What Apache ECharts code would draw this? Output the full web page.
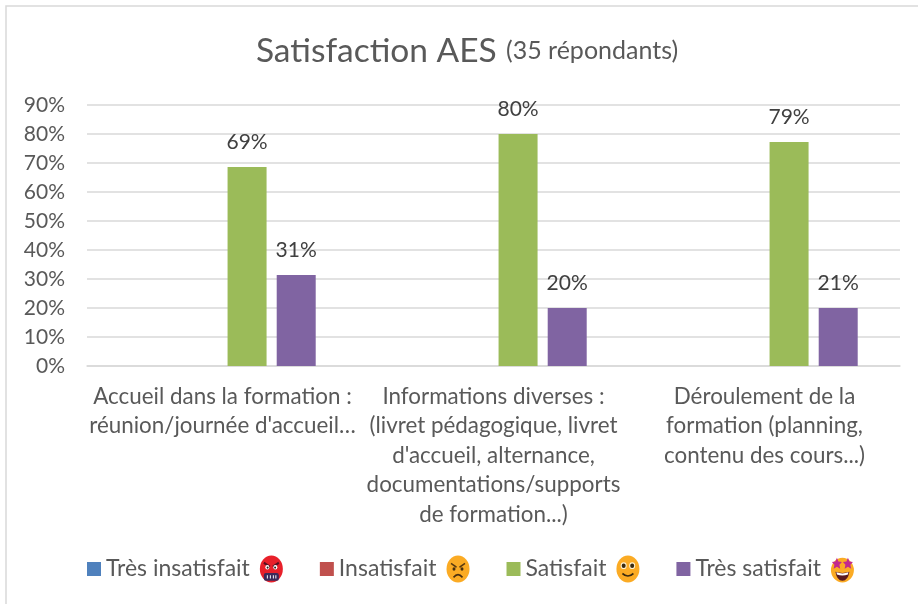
<!DOCTYPE html>
<html><head><meta charset="utf-8">
<style>html,body{margin:0;padding:0;background:#fff}#c{width:918px;height:604px}</style>
<script src="https://cdn.jsdelivr.net/npm/echarts@6/dist/echarts.min.js"></script>
</head><body><div id="c"></div>
<script>
const categories = [
  "Accueil dans la formation :\nréunion/journée d'accueil…",
  "Informations diverses :\n(livret pédagogique, livret\nd'accueil, alternance,\ndocumentations/supports\nde formation...)",
  "Déroulement de la\nformation (planning,\ncontenu des cours...)"
];
const seriesNames = ["Très insatisfait", "Insatisfait", "Satisfait", "Très satisfait"];
const tresInsatisfait = [null, null, null];
const insatisfait = [null, null, null];
const satisfait = [68.6, 80, 77.2];
const tresSatisfait = [31.4, 20, 20];
const satisfaitLabels = ["69%", "80%", "79%"];
const tresSatisfaitLabels = ["31%", "20%", "21%"];
const colors = ["#4f81bd", "#c0504d", "#9bbb59", "#8064a2"];
const font = "Lato";

function svg(body){
  return 'data:image/svg+xml;charset=utf-8,' + encodeURIComponent(
    '<svg xmlns="http://www.w3.org/2000/svg" width="100" height="100" viewBox="0 0 100 100">' + body + '</svg>');
}
const emoji = [
  svg('<ellipse cx="50" cy="50" rx="46" ry="48" fill="#e8202a"/><path d="M20 28 L44 42 M80 28 L56 42" stroke="#5a1020" stroke-width="8"/><circle cx="34" cy="44" r="8" fill="#fff"/><circle cx="66" cy="44" r="8" fill="#fff"/><circle cx="35" cy="45" r="4" fill="#222"/><circle cx="65" cy="45" r="4" fill="#222"/><rect x="20" y="64" width="60" height="28" rx="8" fill="#3c2a5a"/><path d="M34 72v12M46 72v12M58 72v12M68 72v12" stroke="#fff" stroke-width="4"/>'),
  svg('<ellipse cx="50" cy="50" rx="46" ry="48" fill="#fbab24"/><path d="M22 30 L44 44 M78 30 L56 44" stroke="#5a3a10" stroke-width="6"/><circle cx="34" cy="50" r="6" fill="#4a2f10"/><circle cx="66" cy="50" r="6" fill="#4a2f10"/><path d="M32 80 Q50 60 68 80" fill="none" stroke="#4a2f10" stroke-width="6"/>'),
  svg('<ellipse cx="50" cy="50" rx="46" ry="48" fill="#fbab24"/><circle cx="33" cy="38" r="12" fill="#fff2d0"/><circle cx="67" cy="38" r="12" fill="#fff2d0"/><circle cx="33" cy="38" r="8" fill="#3a2a10"/><circle cx="67" cy="38" r="8" fill="#3a2a10"/><path d="M28 66 Q50 84 72 66" fill="none" stroke="#3a2a10" stroke-width="6"/>'),
  svg('<ellipse cx="50" cy="54" rx="46" ry="44" fill="#fbab24"/><path d="M28 10l6 13 14 2-10 10 3 14-13-7-13 7 3-14-10-10 14-2zM72 10l6 13 14 2-10 10 3 14-13-7-13 7 3-14-10-10 14-2z" fill="#c2298f"/><path d="M22 60 Q50 68 78 60 Q72 92 50 92 Q28 92 22 60z" fill="#5a1a20"/><path d="M26 62 Q50 70 74 62 L72 70 Q50 76 28 70z" fill="#fff"/>')
];

const rich = {
  n: {fontFamily: font, fontSize: 23, color: "#595959", padding: [0, 9, 0, 0]}
};
emoji.forEach((u, i) => {
  rich["e" + i] = {width: 25, height: 28, backgroundColor: {image: u}};
});

function makeSeries(name, i, data, labels){
  return {
    name, type: "bar", data, barWidth: 39, barGap: "26%", itemStyle: {color: colors[i]},
    label: labels ? {
      show: true, position: "top", distance: 14,
      fontFamily: font, fontSize: 21, color: "#404040",
      formatter: p => labels[p.dataIndex]
    } : {show: false}
  };
}

const chart = echarts.init(document.getElementById("c"), null, {renderer: "canvas"});
chart.setOption({
  animation: false,
  backgroundColor: "#fff",
  textStyle: {fontFamily: font},
  title: {
    text: "{a|Satisfaction AES}  {b|(35 répondants)}",
    left: 462, top: 29, textAlign: "center",
    textStyle: {fontWeight: "normal", rich: {
      a: {fontFamily: font, fontSize: 33.5, color: "#595959", fontWeight: "normal"},
      b: {fontFamily: font, fontSize: 25, color: "#595959", fontWeight: "normal"}
    }}
  },
  graphic: [{
    type: "rect", silent: true, z: -1,
    shape: {x: 6, y: 6, width: 920, height: 610},
    style: {fill: "#fff", stroke: "#d9d9d9", lineWidth: 1.5}
  }],
  legend: {
    left: 87, top: 555, padding: 0, itemWidth: 14, itemHeight: 14, itemGap: 36,
    icon: "rect",
    data: seriesNames,
    formatter: name => `{n|${name}}{e${seriesNames.indexOf(name)}|}`,
    textStyle: {rich}
  },
  grid: {left: 87, right: 18, top: 105, bottom: 238, containLabel: false},
  xAxis: {
    type: "category", data: categories,
    axisTick: {show: false},
    axisLine: {lineStyle: {color: "#d9d9d9", width: 1.5}},
    axisLabel: {interval: 0, fontFamily: font, fontSize: 22.4, color: "#595959", lineHeight: 29.5, margin: 16, align: "center", verticalAlign: "top"}
  },
  yAxis: {
    type: "value", min: 0, max: 90, interval: 10,
    axisLine: {show: false}, axisTick: {show: false},
    splitLine: {lineStyle: {color: "#d9d9d9", width: 1.5}},
    axisLabel: {formatter: "{value}%", fontFamily: font, fontSize: 21, color: "#595959", margin: 22}
  },
  series: [
    makeSeries(seriesNames[0], 0, tresInsatisfait),
    makeSeries(seriesNames[1], 1, insatisfait),
    makeSeries(seriesNames[2], 2, satisfait, satisfaitLabels),
    makeSeries(seriesNames[3], 3, tresSatisfait, tresSatisfaitLabels)
  ]
});
</script></body></html>
